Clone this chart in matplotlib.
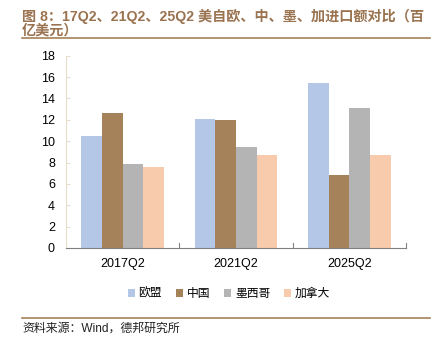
import matplotlib
matplotlib.use("Agg")
import matplotlib.pyplot as plt
import numpy as np
from matplotlib.lines import Line2D

periods = ["2017Q2", "2021Q2", "2025Q2"]
series = ["欧盟", "中国", "墨西哥", "加拿大"]
eu = [10.5, 12.05, 15.45]
china = [12.65, 12.0, 6.8]
mexico = [7.85, 9.45, 13.1]
canada = [7.55, 8.7, 8.75]
yticks = [0, 2, 4, 6, 8, 10, 12, 14, 16, 18]

colors = ["#B4C7E7", "#A6825A", "#B4B4B4", "#F8CBAD"]
fam = ["Liberation Sans", "Noto Sans CJK SC"]
brown = "#9A7350"

fig = plt.figure(figsize=(4.34, 3.46), dpi=100)
ax = fig.add_axes([66 / 434, 1 - 248 / 346, 340 / 434, (248 - 55.7) / 346])

x = np.arange(len(periods))
w = 0.183
for i, vals in enumerate([eu, china, mexico, canada]):
    ax.bar(x + (i - 1.5) * w, vals, width=w, color=colors[i], label=series[i])

ax.set_xlim(-0.5, 2.5)
ax.set_ylim(0, 18)
ax.set_yticks(yticks)
ax.set_yticklabels([str(v) for v in yticks], fontsize=9, family=fam)
ax.set_xticks(x)
ax.set_xticklabels(periods, fontsize=9, family=fam)
ax.tick_params(axis="x", length=0, pad=7)
ax.tick_params(axis="y", length=3, direction="in", color="#E8DCCC", pad=8)
for v in [0.5, 1.5, 2.5]:
    ax.plot([v, v], [0, 0.45], color="#808080", lw=0.8, clip_on=False)
for s in ["top", "right"]:
    ax.spines[s].set_visible(False)
ax.spines["left"].set_color("#E8DCCC")
ax.spines["bottom"].set_color("#808080")

leg = fig.legend(loc="center", bbox_to_anchor=(229 / 434, 1 - 294 / 346), ncol=4,
                 frameon=False, prop={"family": fam, "size": 8.5},
                 handlelength=0.6, handleheight=0.6, handletextpad=0.3, columnspacing=1.2)

fig.text(22 / 434, 1 - 16 / 346, "图 8：17Q2、21Q2、25Q2 美自欧、中、墨、加进口额对比（百",
         fontsize=10.2, fontweight="bold", color=brown, family=fam, va="center")
fig.text(22 / 434, 1 - 31 / 346, "亿美元）",
         fontsize=10.2, fontweight="bold", color=brown, family=fam, va="center")
fig.add_artist(Line2D([22 / 434, 430 / 434], [1 - 38 / 346] * 2, color="#A6825A", lw=1.2))
fig.add_artist(Line2D([22 / 434, 430 / 434], [1 - 318 / 346] * 2, color="#A6825A", lw=1.2))
fig.text(22 / 434, 1 - 329 / 346, "资料来源：Wind，德邦研究所", fontsize=8.6, family=fam,
         va="center", color="#222222")

fig.savefig("out.png", dpi=100)
